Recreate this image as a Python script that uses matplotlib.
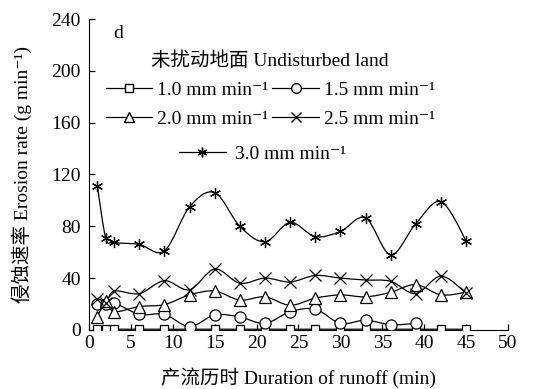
import numpy as np
import matplotlib
matplotlib.use('Agg')
import matplotlib.pyplot as plt
from matplotlib.path import Path
from matplotlib.patches import PathPatch
from matplotlib.lines import Line2D

plt.rcParams['font.family'] = ['Liberation Serif', 'Noto Sans CJK SC', 'DejaVu Serif']

# Duration of runoff (min)
t_all = [1, 2, 3, 6, 9, 12, 15, 18, 21, 24, 27, 30, 33, 36, 39, 42, 45]
t_15 = t_all[:15]

# Erosion rate (g min-1) per rainfall intensity
rate_10 = [0.5, 0.5, 0.5, 0.5, 0.5, 0.5, 0.5, 0.5, 0.5, 0.5, 0.5, 0.5, 0.5, 0.5, 0.5, 0.5, 0.5]
rate_15 = [20, 20, 21, 12, 12, 2.5, 11.5, 10, 5, 14, 16, 5, 7.5, 4, 5]
rate_20 = [10, 22, 14, 18, 19.5, 27, 30, 23, 25.5, 19, 24.5, 27, 25.5, 29, 35, 27, 29]
rate_25 = [24, 21, 30, 28, 38, 31, 47, 36, 40, 37, 42, 40, 38.5, 37.5, 28, 41.5, 28.5]
rate_30 = [111, 71, 67.5, 66, 61, 95, 106, 80, 68, 83, 72, 76, 86.5, 58, 82, 99, 69]

labels = ['1.0 mm min⁻¹', '1.5 mm min⁻¹', '2.0 mm min⁻¹',
          '2.5 mm min⁻¹', '3.0 mm min⁻¹']
markers = ['s', 'o', '^', 'x', (6, 2, 0)]
series = [(t_all, rate_10), (t_15, rate_15), (t_all, rate_20),
          (t_all, rate_25), (t_all, rate_30)]


def smooth_path(x, y):
    # Catmull-Rom style bezier, like a spreadsheet "smoothed line"
    p = np.column_stack([x, y]).astype(float)
    n = len(p)
    verts = [p[0]]
    codes = [Path.MOVETO]
    for i in range(n - 1):
        p0 = p[i - 1] if i > 0 else p[i]
        p3 = p[i + 2] if i + 2 < n else p[i + 1]
        c1 = p[i] + (p[i + 1] - p0) / 6.0
        c2 = p[i + 1] - (p3 - p[i]) / 6.0
        verts += [c1, c2, p[i + 1]]
        codes += [Path.CURVE4] * 3
    return Path(verts, codes)


fig = plt.figure(figsize=(5.33, 3.89), dpi=100)
ax = fig.add_axes([0.167, 0.152, 0.786, 0.799])

for (x, y), m in zip(series, markers):
    ax.add_patch(PathPatch(smooth_path(x, y), facecolor='none',
                           edgecolor='black', lw=0.9, zorder=2))
    ms = 6 if m == 's' else 8
    ax.plot(x, y, linestyle='none', marker=m, markersize=ms,
            markerfacecolor='white', markeredgecolor='black',
            markeredgewidth=0.9, zorder=3)

ax.set_xlim(0, 50)
ax.set_ylim(0, 240)
ax.set_xticks(np.arange(0, 51, 5))
ax.set_yticks(np.arange(0, 241, 40))
ax.spines['top'].set_visible(False)
ax.spines['right'].set_visible(False)
ax.tick_params(direction='in', length=4, labelsize=14, width=0.9)
ax.tick_params(axis='y', pad=6)
ax.set_xlabel('产流历时 Duration of runoff (min)', fontsize=14, labelpad=11)
ax.set_ylabel('侵蚀速率 Erosion rate (g min⁻¹)', fontsize=14, labelpad=14)

ax.text(0.057, 0.955, 'd', transform=ax.transAxes, fontsize=14,
        ha='left', va='center')

handles = [Line2D([], [], color='black', lw=0.9, marker=m,
                  markersize=6 if m == 's' else 7,
                  markerfacecolor='white', markeredgecolor='black')
           for m in markers]

# ncol=2 fills by column, so order gives rows 1.0/1.5 and 2.0/2.5
order = [0, 2, 1, 3]
leg1 = ax.legend([handles[i] for i in order], [labels[i] for i in order],
                 ncol=2, loc='upper left',
                 bbox_to_anchor=(0.04, 0.895), frameon=False, fontsize=14,
                 title='未扰动地面 Undisturbed land', title_fontsize=14,
                 handlelength=2.4, handletextpad=0.25, columnspacing=0.2,
                 labelspacing=0.57, borderpad=0, borderaxespad=0)
ax.add_artist(leg1)
ax.legend(handles[4:], labels[4:], loc='upper left',
          bbox_to_anchor=(0.215, 0.594), frameon=False, fontsize=14,
          handlelength=2.4, handletextpad=0.5, borderpad=0, borderaxespad=0)

fig.savefig('out.png', dpi=100)
